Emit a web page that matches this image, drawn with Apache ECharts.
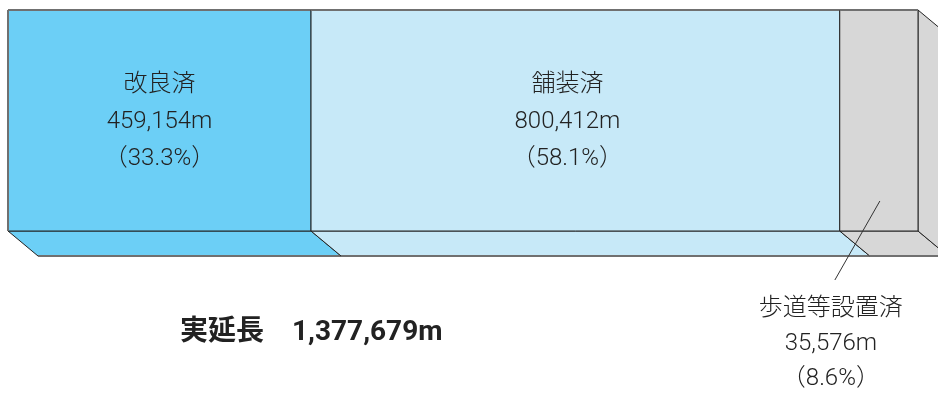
<!DOCTYPE html>
<html>
<head>
<meta charset="utf-8">
<script src="https://cdn.jsdelivr.net/npm/echarts@6/dist/echarts.min.js"></script>
<style>
  html, body { margin: 0; padding: 0; background: #fff; }
  #chart { width: 938px; height: 394px; }
</style>
</head>
<body>
<div id="chart"></div>
<script>
// Road length breakdown (m) and share of the total (%)
const categories = ['改良済', '舗装済', '歩道等設置済'];
const lengths = [459154, 800412, 35576];
const shares = [33.3, 58.1, 8.6];
const totalTitle = '実延長';
const totalLength = 1377679;

const colors = ['#6ccff6', '#c7e9f8', '#d7d7d7'];
const DEPTH_X = 30, DEPTH_Y = 25;
const FONT = 'Roboto, "Noto Sans CJK JP", sans-serif';

// cumulative [start, end, index] along the percentage axis
const segments = [];
let acc = 0;
shares.forEach((s, i) => { segments.push([acc, acc + s, i]); acc += s; });

const fmt = n => n.toLocaleString('en-US');

function renderItem(params, api) {
  const i = api.value(2);
  const p0 = api.coord([api.value(0), 1]);
  const p1 = api.coord([api.value(1), 0]);
  const x0 = p0[0], yTop = p0[1], x1 = p1[0], yBot = p1[1];
  const last = i === categories.length - 1;
  const children = [];

  // bottom face (extruded toward lower right)
  children.push({
    type: 'polygon',
    shape: { points: [[x0, yBot], [x1, yBot], [x1 + DEPTH_X, yBot + DEPTH_Y], [x0 + DEPTH_X, yBot + DEPTH_Y]] },
    style: { fill: colors[i], stroke: '#222', lineWidth: 1 }
  });
  // right side face of the final segment
  if (last) {
    children.push({
      type: 'polygon',
      shape: { points: [[x1, yTop], [x1 + DEPTH_X, yTop + DEPTH_Y], [x1 + DEPTH_X, yBot + DEPTH_Y], [x1, yBot]] },
      style: { fill: colors[i], stroke: '#222', lineWidth: 1 }
    });
  }
  // front face
  children.push({
    type: 'rect',
    shape: { x: x0, y: yTop, width: x1 - x0, height: yBot - yTop },
    style: { fill: colors[i], stroke: '#222', lineWidth: 1 }
  });
  // outer rim: top edge and lower edge of the bottom face
  children.push({
    type: 'line',
    shape: { x1: x0, y1: yTop, x2: x1, y2: yTop },
    style: { stroke: '#707070', lineWidth: 2 }
  });
  children.push({
    type: 'line',
    shape: { x1: x0 + DEPTH_X, y1: yBot + DEPTH_Y, x2: x1 + DEPTH_X, y2: yBot + DEPTH_Y },
    style: { stroke: '#707070', lineWidth: 2 }
  });
  if (i === 0) {
    children.push({
      type: 'line',
      shape: { x1: x0, y1: yTop, x2: x0, y2: yBot },
      style: { stroke: '#707070', lineWidth: 2 }
    });
  }

  const text = categories[i] + '\n' + fmt(lengths[i]) + 'm\n（' + shares[i].toFixed(1) + '%）';
  const cx = (x0 + x1) / 2;
  if (!last) {
    children.push({
      type: 'text',
      style: {
        text: text, x: cx - (i === 1 ? 8 : 0), y: (yTop + yBot) / 2 + 1,
        align: 'center', verticalAlign: 'middle',
        fill: '#222', fontSize: 24, fontWeight: 300, fontFamily: FONT, lineHeight: 37
      }
    });
  } else {
    // small segment: callout below the bar
    children.push({
      type: 'line',
      shape: { x1: cx + 1, y1: yBot - 30, x2: cx - 44, y2: yBot + 49 },
      style: { stroke: '#333', lineWidth: 1 }
    });
    children.push({
      type: 'text',
      style: {
        text: text, x: cx - 48, y: yBot + 60,
        align: 'center', verticalAlign: 'top',
        fill: '#222', fontSize: 24, fontWeight: 300, fontFamily: FONT, lineHeight: 35
      }
    });
  }
  return { type: 'group', children: children };
}

const chart = echarts.init(document.getElementById('chart'), null, { renderer: 'canvas' });
chart.setOption({
  animation: false,
  backgroundColor: '#fff',
  grid: { left: 8, right: 20, top: 10, bottom: 163 },
  xAxis: { type: 'value', min: 0, max: acc, show: false },
  yAxis: { type: 'value', min: 0, max: 1, show: false },
  series: [{
    type: 'custom',
    renderItem: renderItem,
    clip: false,
    encode: { x: [0, 1] },
    data: segments
  }],
  graphic: [{
    type: 'text',
    left: 180,
    top: 319,
    style: {
      text: totalTitle + '　' + fmt(totalLength) + 'm',
      fill: '#222',
      fontSize: 28,
      fontWeight: 'bold',
      fontFamily: FONT
    }
  }]
});
</script>
</body>
</html>
